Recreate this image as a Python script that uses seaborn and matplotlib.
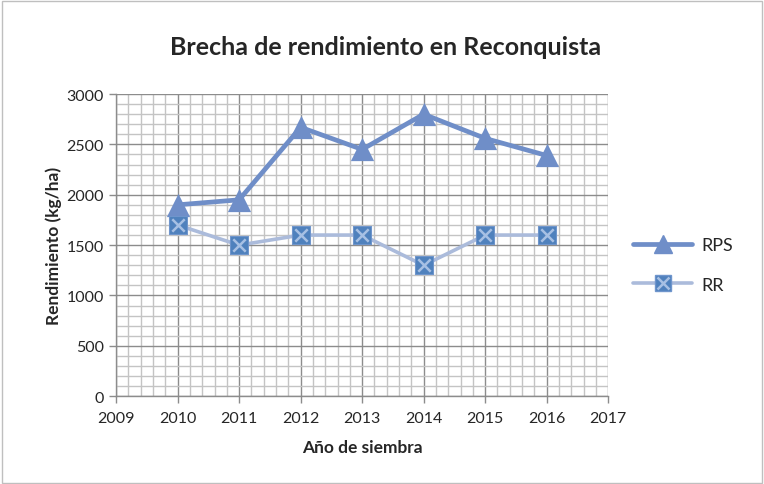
import matplotlib
matplotlib.use("Agg")
import matplotlib.pyplot as plt
import seaborn as sns
import pandas as pd
from matplotlib.ticker import MultipleLocator
from matplotlib.lines import Line2D
from matplotlib.patches import Rectangle

years = [2010, 2011, 2012, 2013, 2014, 2015, 2016]
rps = [1900, 1950, 2670, 2450, 2800, 2560, 2390]
rr = [1700, 1500, 1600, 1600, 1300, 1600, 1600]
series_names = ["RPS", "RR"]

sns.set_style("white")
plt.rcParams["font.family"] = ["Lato", "DejaVu Sans"]

df = pd.DataFrame({"year": years * 2, "value": rps + rr,
                   "serie": ["RPS"] * len(years) + ["RR"] * len(years)})

fig = plt.figure(figsize=(7.64, 4.85), dpi=100)
ax = fig.add_axes([0.152, 0.181, 0.644, 0.623])

c_rps = "#6f8ec8"
c_rr = "#abbbdb"
c_sq = "#4f81bd"
c_x = "#a7c0e4"

sns.lineplot(data=df, x="year", y="value", hue="serie", palette={"RPS": c_rps, "RR": c_rr},
             ax=ax, legend=False, linewidth=3, zorder=3)
for ln, lw in zip(ax.get_lines(), [3.4, 2.6]):
    ln.set_linewidth(lw)

rps_df = df[df.serie == "RPS"]
rr_df = df[df.serie == "RR"]
sns.scatterplot(data=rps_df, x="year", y="value", marker="^", s=280, color=c_rps,
                edgecolor=c_rps, linewidth=0, ax=ax, zorder=4, legend=False)
sns.scatterplot(data=rr_df, x="year", y="value", marker="s", s=160, color=c_sq,
                edgecolor="#6f95cc", linewidth=0.8, ax=ax, zorder=4, legend=False)
sns.scatterplot(data=rr_df, x="year", y="value", marker="x", s=80, color=c_x,
                linewidth=1.8, ax=ax, zorder=5, legend=False)

ax.set_xlim(2009, 2017)
ax.set_ylim(0, 3000)
ax.xaxis.set_major_locator(MultipleLocator(1))
ax.xaxis.set_minor_locator(MultipleLocator(0.2))
ax.yaxis.set_major_locator(MultipleLocator(500))
ax.yaxis.set_minor_locator(MultipleLocator(100))
ax.grid(which="minor", color="#c4c4c4", linewidth=1.0, zorder=0)
ax.grid(which="major", color="#8c8c8c", linewidth=1.0, zorder=0)
ax.set_axisbelow(True)
for s in ["top", "right"]:
    ax.spines[s].set_visible(False)
for s in ["left", "bottom"]:
    ax.spines[s].set_color("#8c8c8c")
    ax.spines[s].set_linewidth(1.0)
ax.tick_params(which="major", direction="out", length=5, width=1, color="#8c8c8c",
               labelsize=11.5, left=True, bottom=True, pad=4)
ax.tick_params(axis="x", which="major", pad=6)
ax.tick_params(which="minor", length=0)
ax.set_xticks(range(2009, 2018))
ax.set_xticklabels([str(y) for y in range(2009, 2018)])

ax.set_xlabel("Año de siembra", fontsize=12.5, fontweight="bold", labelpad=10)
ax.set_ylabel("Rendimiento (kg/ha)", fontsize=12.5, fontweight="bold", labelpad=3)
fig.text(0.505, 0.903, "Brecha de rendimiento en Reconquista", ha="center", va="center",
         fontsize=18, fontweight="bold")

h_rps = Line2D([0], [0], color=c_rps, lw=3.4, marker="^", markersize=13, markerfacecolor=c_rps,
               markeredgecolor=c_rps)
h_rr = (Line2D([0], [0], color=c_rr, lw=2.6, marker="s", markersize=11, markerfacecolor=c_sq,
               markeredgecolor="#6f95cc"),
        Line2D([0], [0], color=c_x, lw=0, marker="x", markersize=8, markeredgewidth=1.8))
leg = fig.legend([h_rps, h_rr], series_names, loc="center left", bbox_to_anchor=(0.807, 0.452),
                 frameon=False, fontsize=13, handlelength=3.3, labelspacing=1.3, handletextpad=0.5)

fig.add_artist(Rectangle((0.002, 0.003), 0.995, 0.993, transform=fig.transFigure,
                         fill=False, edgecolor="#bfbfbf", linewidth=1))
fig.savefig("out.png", dpi=100, facecolor="white")
